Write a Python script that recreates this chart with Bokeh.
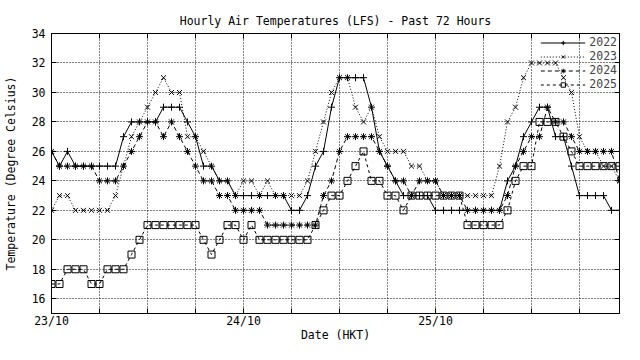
from bokeh.plotting import figure
from bokeh.models import FixedTicker, LinearAxis, Range1d
from bokeh.embed import file_html
from bokeh.resources import INLINE

hours = list(range(72))

t2022 = [26, 25, 26, 25, 25, 25, 25, 25, 25, 27, 28, 28, 28, 28, 29, 29, 29, 28, 27, 25, 25, 24, 24, 23,
         23, 23, 23, 23, 23, 23, 22, 22, 23, 25, 26, 29, 31, 31, 31, 31, 29, 26, 25, 24, 23, 23, 23, 23,
         22, 22, 22, 22, 22, 22, 22, 22, 22, 24, 25, 27, 28, 29, 29, 27, 27, 25, 23, 23, 23, 23, 22, 22]
t2023 = [22, 23, 23, 22, 22, 22, 22, 22, 23, 25, 27, 28, 29, 30, 31, 30, 30, 27, 27, 26, 25, 24, 24, 23,
         24, 24, 23, 24, 23, 23, 23, 23, 24, 26, 28, 30, 31, 31, 29, 28, 29, 27, 26, 26, 26, 25, 25, 24,
         24, 23, 23, 23, 23, 23, 23, 23, 25, 28, 29, 31, 32, 32, 32, 32, 31, 30, 27, 26, 26, 25, 25, 24]
t2024 = [26, 25, 25, 25, 25, 25, 24, 24, 24, 25, 26, 27, 28, 28, 27, 28, 27, 26, 25, 24, 24, 23, 23, 22,
         22, 22, 22, 21, 21, 21, 21, 21, 21, 21, 23, 24, 26, 27, 27, 27, 27, 26, 25, 24, 24, 23, 24, 24,
         24, 23, 23, 23, 22, 22, 22, 22, 22, 23, 25, 26, 27, 27, 29, 28, 28, 27, 26, 26, 26, 26, 26, 24]
t2025 = [17, 17, 18, 18, 18, 17, 17, 18, 18, 18, 19, 20, 21, 21, 21, 21, 21, 21, 21, 20, 19, 20, 21, 21,
         20, 21, 20, 20, 20, 20, 20, 20, 20, 21, 22, 23, 23, 24, 25, 26, 24, 24, 23, 23, 22, 23, 23, 23,
         23, 23, 23, 23, 21, 21, 21, 21, 21, 22, 24, 25, 25, 28, 28, 28, 27, 26, 25, 25, 25, 25, 25, 25]

series_names = ["2022", "2023", "2024", "2025"]
x_grid_ticks = list(range(0, 72, 6))
x_label_ticks = [0, 24, 48]
x_tick_labels = {0: "23/10", 24: "24/10", 48: "25/10"}
y_ticks = list(range(16, 35, 2))
x_min, x_max = 0, 71
y_min, y_max = 15, 34

FONT = "DejaVu Sans Mono"
FS = "11.5px"

p = figure(width=624, height=344, output_backend="svg", toolbar_location=None,
           x_range=Range1d(x_min, x_max), y_range=Range1d(y_min, y_max),
           min_border_left=41, min_border_right=5, min_border_top=33, min_border_bottom=0,
           background_fill_color="white", border_fill_color="white")

p.title.text = "Hourly Air Temperatures (LFS) - Past 72 Hours"
p.title.text_font = FONT
p.title.text_font_size = FS
p.title.text_font_style = "normal"
p.title.text_color = "black"
p.title.align = "center"
p.title.standoff = 11

p.outline_line_color = "black"
p.outline_line_alpha = 1
p.outline_line_width = 1

xt = FixedTicker(ticks=x_label_ticks, minor_ticks=x_grid_ticks)
xg = FixedTicker(ticks=x_grid_ticks)
yt = FixedTicker(ticks=y_ticks)

xa = p.xaxis[0]
xa.ticker = xt
xa.major_label_overrides = x_tick_labels
xa.axis_label = "Date (HKT)"
ya = p.yaxis[0]
ya.ticker = yt
ya.axis_label = "Temperature (Degree Celsius)"

for ax in (xa, ya):
    ax.major_tick_in = 5
    ax.major_tick_out = 0
    ax.minor_tick_in = 5
    ax.minor_tick_out = 0
    ax.minor_tick_line_color = "black"
    ax.axis_line_color = "black"
    ax.major_tick_line_color = "black"
    ax.major_label_text_font = FONT
    ax.major_label_text_font_size = FS
    ax.major_label_text_color = "black"
    ax.axis_label_text_font = FONT
    ax.axis_label_text_font_size = FS
    ax.axis_label_text_font_style = "normal"
    ax.axis_label_text_color = "black"
ya.minor_tick_line_color = None
xa.major_label_standoff = 0
xa.axis_label_standoff = -3
ya.major_label_standoff = 6
ya.axis_label_standoff = 11

top_ax = LinearAxis(ticker=xt, major_label_text_font_size="1px", major_label_text_color=None,
                    major_tick_in=5, major_tick_out=0, minor_tick_in=5, minor_tick_out=0,
                    minor_tick_line_color="black", major_label_standoff=0, axis_line_color="black")
right_ax = LinearAxis(ticker=yt, major_label_text_font_size="1px", major_label_text_color=None,
                      major_tick_in=5, major_tick_out=0, major_label_standoff=-6,
                      minor_tick_line_color=None, axis_line_color="black")
p.add_layout(top_ax, "above")
p.add_layout(right_ax, "right")

for g in (p.xgrid[0], p.ygrid[0]):
    g.grid_line_color = "black"
    g.grid_line_dash = "1 2"
    g.grid_line_width = 1
p.xgrid[0].ticker = xg
p.ygrid[0].ticker = yt

styles = {
    "2022": dict(dash="solid", marker="cross"),
    "2023": dict(dash="1 2", marker="x"),
    "2024": dict(dash="4 3", marker="asterisk"),
    "2025": dict(dash="3 3", marker="square"),
}
data = {"2022": t2022, "2023": t2023, "2024": t2024, "2025": t2025}

for name in series_names:
    st = styles[name]
    p.line(hours, data[name], line_color="black", line_width=1, line_dash=st["dash"], legend_label=name)
    p.scatter(hours, data[name], marker=st["marker"], size=7, line_color="black", fill_color=None,
              line_width=1, legend_label=name)

lg = p.legend[0]
lg.location = "top_right"
lg.background_fill_alpha = 0
lg.border_line_alpha = 0
lg.label_text_font = FONT
lg.label_text_font_size = FS
lg.label_height = 11
lg.glyph_height = 11
lg.glyph_width = 45
lg.spacing = 0
lg.padding = 1
lg.margin = 1
lg.label_standoff = 4

open("out.html", "w").write(file_html(p, INLINE))
